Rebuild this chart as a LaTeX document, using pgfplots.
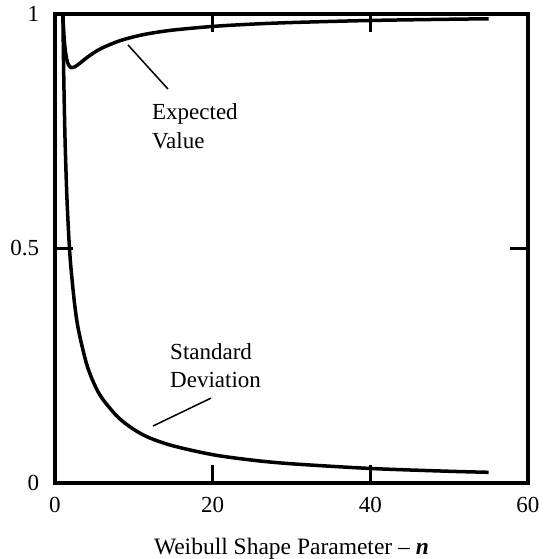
\documentclass[border=0pt]{standalone}
\usepackage{fontspec}
\setmainfont{Liberation Serif}
\usepackage{pgfplots}
\pgfplotsset{compat=1.18}
\begin{document}
\fontsize{23bp}{28bp}\selectfont
\begin{tikzpicture}
\useasboundingbox (-55bp,-76bp) rectangle (491bp,483bp);
\begin{axis}[
  scale only axis,
  width=473bp, height=469bp,
  xmin=0, xmax=60, ymin=0, ymax=1,
  xtick={0,20,40,60}, ytick={0,0.5,1},
  yticklabels={0,0.5,1},
  tick align=inside,
  major tick length=18bp,
  tick style={line width=3.5bp, black},
  axis line style={line width=3.5bp, black},
  /pgf/number format/assume math mode=true,
  ticklabel style={font=\fontsize{23bp}{28bp}\selectfont},
  xticklabel style={yshift=-6bp},
  yticklabel style={xshift=-8bp},
  xlabel={Weibull Shape Parameter -- \textbf{\textit{n}}},
  xlabel style={font=\fontsize{23.5bp}{28bp}\selectfont, yshift=-10bp},
  clip=true,
]
% Expected value
\addplot[line width=3.5bp, black, smooth] coordinates {
(0.9,1.0526) (0.95,1.025) (1,1) (1.1,0.9649) (1.2,0.9407) (1.3,0.9236) (1.5,0.9027)
(1.75,0.8906) (2,0.8862) (2.17,0.8856) (2.5,0.8873) (3,0.8930) (4,0.9064) (5,0.9182)
(6,0.9277) (8,0.9417) (10,0.9514) (12,0.9585) (15,0.9658) (20,0.9735) (25,0.9784)
(30,0.9818) (40,0.9862) (50,0.9888) (55,0.9898)};
% Standard deviation
\addplot[line width=3.5bp, black, smooth] coordinates {
(0.95,1.078) (1,1) (1.1,0.8782) (1.2,0.7872) (1.3,0.7166) (1.5,0.6130) (1.75,0.5253)
(2,0.4633) (2.5,0.3796) (3,0.3245) (4,0.2543) (5,0.2102) (6,0.1800) (8,0.1401)
(10,0.1142) (12,0.0962) (15,0.0791) (20,0.0604) (25,0.0488) (30,0.0410)
(40,0.0310) (50,0.0250) (55,0.0228)};
\node[anchor=base west, inner sep=0] at (axis cs:12.3,0.776) {Expected};
\node[anchor=base west, inner sep=0] at (axis cs:12.3,0.714) {Value};
\draw[line width=1.5bp] (axis cs:9.26,0.934) -- (axis cs:14.33,0.840);
\node[anchor=base west, inner sep=0] at (axis cs:14.59,0.264) {Standard};
\node[anchor=base west, inner sep=0] at (axis cs:14.59,0.2026) {Deviation};
\draw[line width=1.5bp] (axis cs:19.79,0.181) -- (axis cs:12.43,0.1215);
\end{axis}
\end{tikzpicture}
\end{document}
